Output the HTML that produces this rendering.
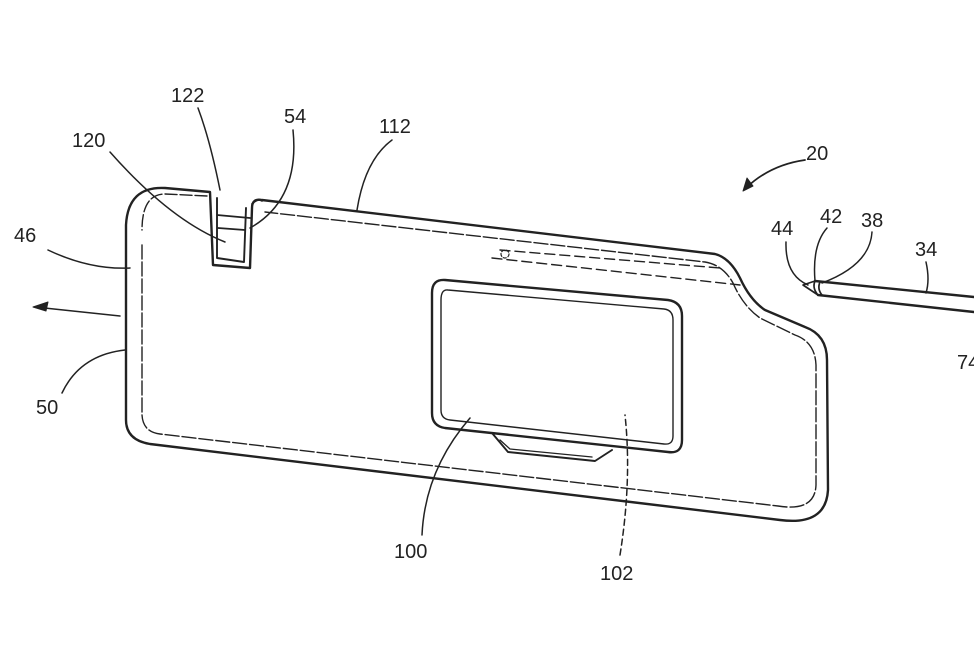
<!DOCTYPE html>
<html><head><meta charset="utf-8"><style>
html,body{margin:0;padding:0;background:#fff}
svg{display:block}
text{font-family:"Liberation Sans",sans-serif;font-size:20px;fill:#222}
</style></head><body>
<svg width="974" height="649" viewBox="0 0 974 649" xmlns="http://www.w3.org/2000/svg">
<g fill="none" stroke="#222" stroke-width="2.4" stroke-linecap="round" stroke-linejoin="round">
<path d="M210,192 L165,188 Q128,186 126,225 L126,420 Q126,440 150,444 L780,520 Q826,526 828,490 L827,360 Q827,335 805,327 L765,310 Q750,300 740,278 Q730,258 715,254 L262,200 Q252,198 252,208 L250,268 L213,265 Z"/>
<path d="M207,196 L165,194 Q142,194 142,230" stroke-width="1.4" stroke-dasharray="12 3"/>
<path d="M142,245 L142,415 Q143,432 160,434 L778,506 Q815,512 816,485 L816,365 Q815,342 795,335 L760,318 Q743,306 733,283 Q723,265 705,262 L265,212" stroke-width="1.4" stroke-dasharray="14 3"/>
<path d="M217,198 L217,258 L244,262 L246,208" stroke-width="1.9"/>
<path d="M217,215 L250,218 M218,228 L245,230 M252,204 Q258,198 262,201" stroke-width="1.7"/>
<path d="M500,250 L720,268 M492,258 L740,285" stroke-width="1.4" stroke-dasharray="10 5"/>
<circle cx="505" cy="254" r="4" stroke-width="1.2" stroke-dasharray="3 2"/>
<path d="M445,280 L668,300 Q682,302 682,316 L682,440 Q682,454 668,452 L445,428 Q432,426 432,413 L432,293 Q432,279 445,280 Z"/>
<path d="M448,290 L664,309 Q673,310 673,320 L673,436 Q673,445 664,444 L450,420 Q441,419 441,410 L441,300 Q441,289 448,290 Z" stroke-width="1.4"/>
<path d="M492,433 L508,452 L595,461 L612,450" stroke-width="1.9"/>
<path d="M500,440 L510,449 L592,457" stroke-width="1.3"/>
<path d="M815,281 L974,297 M818,295 L974,312"/>
<path d="M815,281 L803,285 L818,295 M815,281 Q812,288 818,295 M820,282 Q817,289 822,295" stroke-width="1.7"/>
<path d="M198,108 Q210,140 220,190" stroke-width="1.5"/>
<path d="M293,130 Q300,200 250,228" stroke-width="1.5"/>
<path d="M392,140 Q365,160 357,210" stroke-width="1.5"/>
<path d="M110,152 Q170,220 225,242" stroke-width="1.5"/>
<path d="M48,250 Q90,270 130,268" stroke-width="1.5"/>
<path d="M62,393 Q80,355 125,350" stroke-width="1.5"/>
<path d="M120,316 L35,307" stroke-width="1.5"/>
<path d="M33,307 L48,302 L46,311 Z" fill="#222" stroke-width="1"/>
<path d="M805,160 Q770,165 746,188" stroke-width="1.7"/>
<path d="M743,191 L747,178 L753,186 Z" fill="#222" stroke-width="1"/>
<path d="M786,242 Q785,275 808,285" stroke-width="1.5"/>
<path d="M827,228 Q812,245 815,281" stroke-width="1.5"/>
<path d="M872,232 Q870,265 822,283" stroke-width="1.5"/>
<path d="M926,262 Q930,280 926,293" stroke-width="1.5"/>
<path d="M422,535 Q425,470 470,418" stroke-width="1.5"/>
<path d="M620,555 Q632,480 625,415" stroke-width="1.5" stroke-dasharray="6 4"/>
</g>
<text x="171" y="102">122</text>
<text x="284" y="123">54</text>
<text x="379" y="133">112</text>
<text x="72" y="147">120</text>
<text x="14" y="242">46</text>
<text x="36" y="414">50</text>
<text x="806" y="160">20</text>
<text x="771" y="235">44</text>
<text x="820" y="223">42</text>
<text x="861" y="227">38</text>
<text x="915" y="256">34</text>
<text x="957" y="369">74</text>
<text x="394" y="558">100</text>
<text x="600" y="580">102</text>
</svg>
</body></html>
